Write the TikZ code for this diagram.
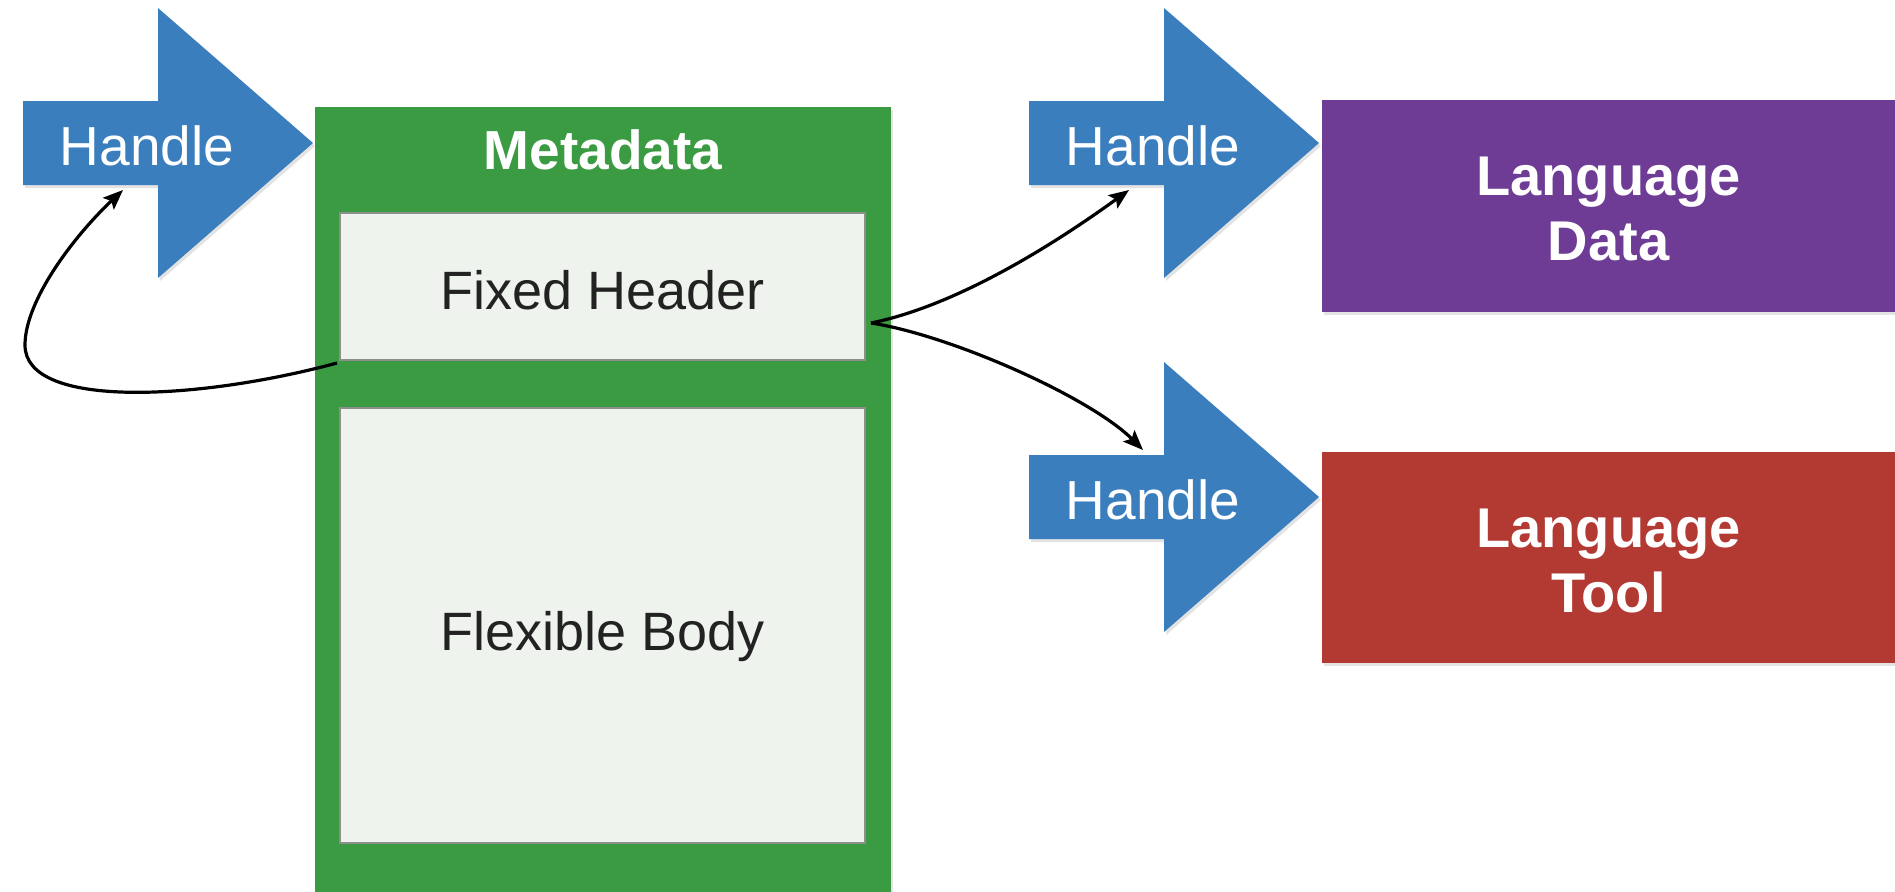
\documentclass[tikz,border=0pt]{standalone}
\usepackage{fontspec}
\setmainfont{Liberation Sans}
\usetikzlibrary{arrows.meta,shadows,calc}
\definecolor{hblue}{HTML}{3A7EBE}
\definecolor{mgreen}{HTML}{3A9B42}
\definecolor{ldpurple}{HTML}{6E3C95}
\definecolor{ltred}{HTML}{B33A33}
\definecolor{boxfill}{HTML}{EEF3EE}
\definecolor{boxline}{HTML}{8C8F8C}
\definecolor{bodyink}{HTML}{222222}
\begin{document}
\begin{tikzpicture}[x=0.5pt,y=-0.5pt,
  softshadow/.style={drop shadow={opacity=0.22,shadow xshift=1pt,shadow yshift=-1.5pt}},
  handletext/.style={text=white,font=\fontsize{27.5}{32}\selectfont,inner sep=0pt},
  titletext/.style={text=white,font=\bfseries\fontsize{27.5}{32}\selectfont,inner sep=0pt},
  bodytext/.style={text=bodyink,font=\fontsize{27}{32}\selectfont,inner sep=0pt},
  langtext/.style={text=white,font=\bfseries\fontsize{28}{32.5}\selectfont,align=center,inner sep=0pt},
  innerbox/.style={rectangle,fill=boxfill,draw=boxline,line width=1pt,minimum width=262.5pt,inner sep=0pt},
  colbox/.style={rectangle,softshadow,minimum width=286.5pt,minimum height=106pt,inner sep=0pt},
  conn/.style={line width=1.6pt,black,-{Stealth[length=10pt,width=8pt,inset=2pt]}},
  handlearrow/.pic={
    \fill[hblue,softshadow] (0,-42) -- (135,-42) -- (135,-135) -- (290,0) -- (135,135) -- (135,42) -- (0,42) -- cycle;
    \node[handletext,anchor=base] (-t) at (124,22) {Handle};
    \coordinate (-bot) at (100,47);
    \coordinate (-top) at (114,-47);
  }]
\useasboundingbox (0,0) rectangle (1895,891);
\fill[white] (0,0) rectangle (1895,891);

% Metadata container
\node[rectangle,fill=mgreen,softshadow,minimum width=288pt,minimum height=394pt,inner sep=0pt] (md) at (603,501) {};
\node[titletext,anchor=base] (mdt) at (603,169) {Metadata};
\node[innerbox,minimum height=73.5pt] (fh) at (602.5,286.5) {};
\node[bodytext,anchor=base] (fht) at (602.5,309) {Fixed Header};
\node[innerbox,minimum height=217.5pt] (fb) at (602.5,625.5) {};
\node[bodytext,anchor=base] (fbt) at (602.5,650) {Flexible Body};

% Handles
\pic (h1) at (23,143) {handlearrow};
\pic (h2) at (1029,143) {handlearrow};
\pic (h3) at (1029,497) {handlearrow};

% Language boxes
\node[colbox,fill=ldpurple] (ld) at (1608.5,206) {};
\node[langtext,yshift=-1.25pt] (ldt) at (ld.center) {Language\\Data};
\node[colbox,fill=ltred,minimum height=105.5pt] (lt) at (1608.5,557.5) {};
\node[langtext,yshift=-1.5pt] (ltt) at (lt.center) {Language\\Tool};

% Connectors
\coordinate (loopc) at (25,345);
\coordinate (fhr) at ($(fh.south east)+(5,-38)$);
\coordinate (fhl) at ($(fh.south west)+(-2,2)$);
\draw[conn] (fhl) .. controls (200,400) and (25,410) .. (loopc) .. controls (25,300) and (75,235) .. (h1-bot);
\draw[conn] (fhr) .. controls (960,305) and (1060,240) .. (h2-bot);
\draw[conn] (fhr) .. controls (950,335) and (1090,397) .. (h3-top);
\end{tikzpicture}
\end{document}
